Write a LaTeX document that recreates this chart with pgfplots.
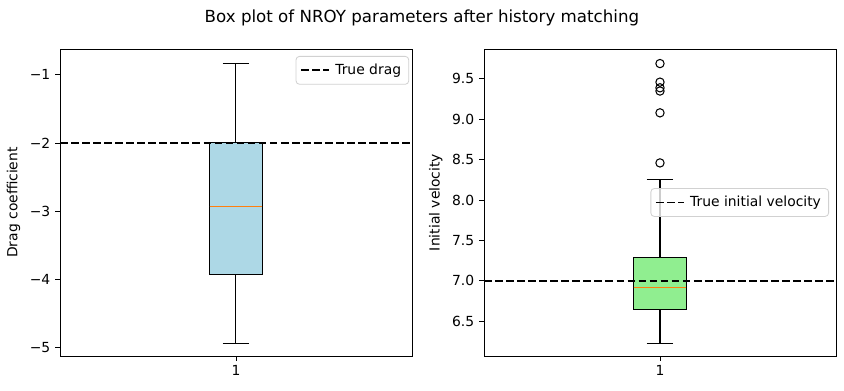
\documentclass[border=0pt]{standalone}
\usepackage{pgfplots}
\pgfplotsset{compat=1.18}
\usepgfplotslibrary{statistics}
\usepackage{fontspec}
\setmainfont{DejaVu Sans}
\definecolor{lblue}{HTML}{ADD8E6}
\definecolor{lgreen}{HTML}{90EE90}
\definecolor{morange}{HTML}{FF7F0E}
\pgfplotsset{
  myaxis/.style={
    scale only axis, width=253.4pt, height=221pt,
    xmin=0.5, xmax=1.5, xtick={1}, xticklabels={1},
    tick align=outside, tick pos=left, major tick length=3.5pt,
    axis line style={line width=0.6pt}, every tick/.style={black, line width=0.6pt},
    tick label style={font=\fontsize{10}{12}\selectfont},
    label style={font=\fontsize{10}{12}\selectfont},
    /pgf/number format/assume math mode=true,
    legend style={font=\fontsize{10}{12}\selectfont, draw=black!18, line width=0.6pt, rounded corners=2.5pt, fill=white, fill opacity=0.8, text opacity=1, inner sep=3pt,
      nodes={inner sep=2.5pt}},
    legend cell align=left,
    legend image code/.code={\draw[black, line width=1.3pt, dash pattern=on 5.55pt off 2.4pt] (0pt,0pt) -- (20pt,0pt);\path (21.5pt,0pt);},
    boxplot/draw direction=y,
    boxplot/every whisker/.style={black, line width=0.75pt, solid},
  },
  truedash/.style={black, line width=1.3pt, dash pattern=on 5.55pt off 2.4pt},
}
\begin{document}
\begin{tikzpicture}
\useasboundingbox (0,0) rectangle (607.7pt,281.5pt);
\node[font=\fontsize{12}{14}\selectfont] at (303.8pt,268.4pt) {Box plot of NROY parameters after history matching};
\begin{axis}[myaxis, at={(43.2pt,25.2pt)}, anchor=south west,
  ymin=-5.13, ymax=-0.62,
  ytick={-5,-4,-3,-2,-1}, yticklabels={−5,−4,−3,−2,−1},
  ylabel={Drag coefficient},
  legend style={at={(1,1)}, anchor=north east, xshift=-2pt, yshift=-5pt}]
\addplot+[forget plot, draw=black, line width=0.75pt, fill=lblue, mark=none,
  boxplot prepared={median=-2.94, upper quartile=-2.0, lower quartile=-3.93,
    upper whisker=-0.83, lower whisker=-4.95, draw position=1,
    box extend=0.15, whisker extend=0.075,
    every median/.style={draw=morange, line width=0.75pt}}]
  coordinates {};
\addplot[truedash] coordinates {(0.5,-2) (1.5,-2)};
\addlegendentry{True drag}
\end{axis}
\begin{axis}[myaxis, at={(348.5pt,25.2pt)}, anchor=south west,
  ymin=6.07, ymax=9.87,
  ytick={6.5,7.0,7.5,8.0,8.5,9.0,9.5}, yticklabels={6.5,7.0,7.5,8.0,8.5,9.0,9.5},
  ylabel={Initial velocity},
  legend style={at={(1,0.5)}, anchor=east, xshift=-5pt}]
\addplot+[forget plot, draw=black, line width=0.75pt, fill=lgreen,
  mark=o, mark size=3pt, mark options={draw=black, fill=none, line width=0.75pt},
  boxplot prepared={median=6.92, upper quartile=7.29, lower quartile=6.65,
    upper whisker=8.26, lower whisker=6.23, draw position=1,
    box extend=0.15, whisker extend=0.075,
    every median/.style={draw=morange, line width=0.75pt}}]
  table[row sep=\\, y index=0] {9.69\\ 9.46\\ 9.39\\ 9.35\\ 9.08\\ 8.46\\};
\addplot[truedash] coordinates {(0.5,7) (1.5,7)};
\addlegendentry{True initial velocity}
\end{axis}
\end{tikzpicture}
\end{document}
